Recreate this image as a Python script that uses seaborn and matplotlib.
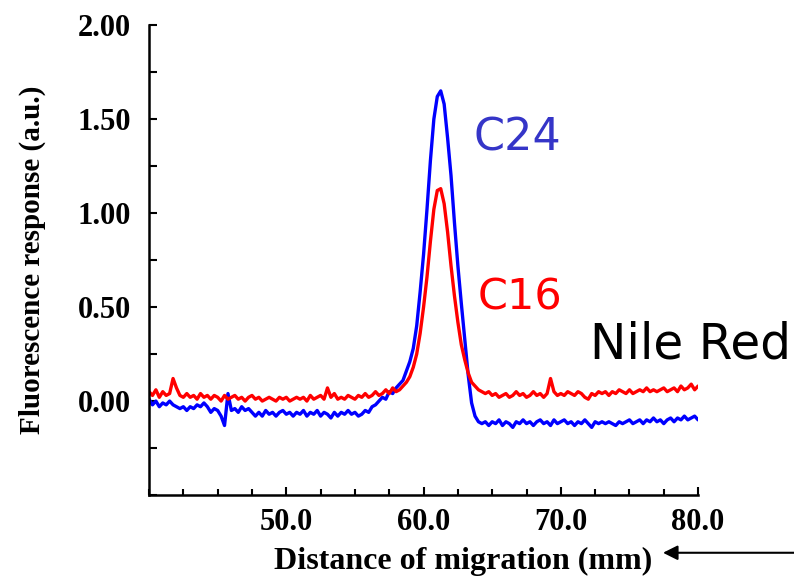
import numpy as np
import pandas as pd
import seaborn as sns
import matplotlib.pyplot as plt
from matplotlib.ticker import MultipleLocator, FormatStrFormatter

# %%-----------------------------------------------------------------------
# data (0.25 mm sampling, 40 -> 80 mm)

distance = np.arange(40.0, 80.001, 0.25)

c24 = [
    0.01, -0.02, 0.00, -0.03,     # 40
    -0.01, -0.02, 0.00, -0.02,    # 41
    -0.03, -0.04, -0.03, -0.05,   # 42
    -0.03, -0.04, -0.02, -0.03,   # 43
    -0.01, -0.03, -0.06, -0.04,   # 44
    -0.05, -0.08, -0.13, 0.04,    # 45
    -0.05, -0.04, -0.06, -0.03,   # 46
    -0.05, -0.04, -0.06, -0.08,   # 47
    -0.06, -0.08, -0.05, -0.07,   # 48
    -0.06, -0.08, -0.06, -0.05,   # 49
    -0.07, -0.06, -0.08, -0.06,   # 50
    -0.07, -0.05, -0.08, -0.06,   # 51
    -0.07, -0.05, -0.08, -0.06,   # 52
    -0.07, -0.09, -0.06, -0.08,   # 53
    -0.06, -0.07, -0.05, -0.07,   # 54
    -0.06, -0.08, -0.07, -0.05,   # 55
    -0.06, -0.03, -0.02, 0.00,    # 56
    0.02, 0.01, 0.05, 0.04,       # 57
    0.07, 0.09, 0.11, 0.16,       # 58
    0.21, 0.28, 0.40, 0.58,       # 59
    0.78, 1.02, 1.28, 1.50,       # 60
    1.62, 1.65, 1.58, 1.40,       # 61
    1.20, 0.95, 0.72, 0.52,       # 62
    0.33, 0.14, -0.01, -0.08,     # 63
    -0.11, -0.12, -0.11, -0.13,   # 64
    -0.11, -0.12, -0.10, -0.13,   # 65
    -0.11, -0.12, -0.14, -0.11,   # 66
    -0.12, -0.10, -0.12, -0.11,   # 67
    -0.13, -0.11, -0.10, -0.12,   # 68
    -0.11, -0.13, -0.10, -0.12,   # 69
    -0.11, -0.10, -0.12, -0.11,   # 70
    -0.13, -0.11, -0.12, -0.10,   # 71
    -0.12, -0.14, -0.11, -0.12,   # 72
    -0.11, -0.12, -0.11, -0.12,   # 73
    -0.13, -0.11, -0.12, -0.11,   # 74
    -0.10, -0.12, -0.11, -0.10,   # 75
    -0.12, -0.10, -0.11, -0.09,   # 76
    -0.11, -0.10, -0.12, -0.10,   # 77
    -0.09, -0.11, -0.09, -0.10,   # 78
    -0.08, -0.10, -0.09, -0.08,   # 79
    -0.10,                        # 80
]

c16 = [
    0.05, 0.03, 0.06, 0.02,       # 40
    0.05, 0.03, 0.04, 0.12,       # 41
    0.07, 0.03, 0.02, 0.04,       # 42
    0.02, 0.03, 0.01, 0.04,       # 43
    0.02, 0.03, 0.01, 0.03,       # 44
    0.02, 0.00, 0.03, 0.01,       # 45
    0.02, 0.03, 0.01, 0.02,       # 46
    0.00, 0.02, 0.03, 0.01,       # 47
    0.02, 0.00, 0.01, 0.02,       # 48
    0.01, 0.00, 0.02, 0.01,       # 49
    0.02, 0.00, 0.01, 0.02,       # 50
    0.01, 0.02, 0.00, 0.03,       # 51
    0.01, 0.02, 0.03, 0.01,       # 52
    0.07, 0.02, 0.04, 0.01,       # 53
    0.02, 0.01, 0.03, 0.02,       # 54
    0.01, 0.03, 0.02, 0.04,       # 55
    0.02, 0.03, 0.05, 0.03,       # 56
    0.04, 0.06, 0.04, 0.07,       # 57
    0.05, 0.06, 0.08, 0.10,       # 58
    0.13, 0.18, 0.25, 0.36,       # 59
    0.50, 0.66, 0.85, 1.02,       # 60
    1.12, 1.13, 1.05, 0.90,       # 61
    0.72, 0.56, 0.42, 0.30,       # 62
    0.22, 0.15, 0.10, 0.08,       # 63
    0.06, 0.05, 0.04, 0.05,       # 64
    0.03, 0.04, 0.02, 0.03,       # 65
    0.04, 0.02, 0.03, 0.05,       # 66
    0.03, 0.04, 0.02, 0.03,       # 67
    0.05, 0.03, 0.04, 0.02,       # 68
    0.04, 0.12, 0.05, 0.03,       # 69
    0.04, 0.03, 0.05, 0.04,       # 70
    0.03, 0.05, 0.04, 0.02,       # 71
    0.01, 0.04, 0.03, 0.05,       # 72
    0.04, 0.05, 0.03, 0.05,       # 73
    0.04, 0.06, 0.05, 0.04,       # 74
    0.06, 0.04, 0.05, 0.06,       # 75
    0.05, 0.07, 0.05, 0.06,       # 76
    0.05, 0.06, 0.07, 0.05,       # 77
    0.06, 0.07, 0.05, 0.08,       # 78
    0.06, 0.07, 0.09, 0.06,       # 79
    0.08,                         # 80
]

x_ticks = [50.0, 60.0, 70.0, 80.0]
y_ticks = [0.00, 0.50, 1.00, 1.50, 2.00]

df = pd.DataFrame({'distance': distance, 'C24': c24, 'C16': c16})
df_long = df.melt(id_vars='distance', var_name='chain', value_name='response')

# %%-----------------------------------------------------------------------
# plot

sns.set_style('ticks')
plt.rcParams['font.family'] = ['Liberation Serif', 'DejaVu Serif']
plt.rcParams['text.color'] = 'black'
plt.rcParams['axes.labelcolor'] = 'black'
plt.rcParams['xtick.labelcolor'] = 'black'
plt.rcParams['ytick.labelcolor'] = 'black'

fig = plt.figure(figsize=(7.94, 5.77), dpi=100)
ax = fig.add_axes([0.1877, 0.142, 0.6915, 0.8145])

sns.lineplot(data=df_long, x='distance', y='response', hue='chain',
             hue_order=['C24', 'C16'], palette={'C24': '#0000ff', 'C16': '#ff0000'},
             linewidth=2.4, legend=False, ax=ax)

ax.set_xlim(40, 80)
ax.set_ylim(-0.5, 2.0)
ax.set_xticks(x_ticks)
ax.set_yticks(y_ticks)
ax.xaxis.set_minor_locator(MultipleLocator(2.5))
ax.yaxis.set_minor_locator(MultipleLocator(0.25))
ax.xaxis.set_major_formatter(FormatStrFormatter('%.1f'))
ax.yaxis.set_major_formatter(FormatStrFormatter('%.2f'))

for s in ['top', 'right']:
    ax.spines[s].set_visible(False)
for s in ['left', 'bottom']:
    ax.spines[s].set_linewidth(1.8)
    ax.spines[s].set_color('black')

ax.tick_params(axis='both', which='both', direction='in', width=1.5, color='black',
               labelcolor='black')
ax.tick_params(axis='y', which='both', length=6, pad=13)
ax.tick_params(axis='x', which='major', length=6, pad=9)
ax.tick_params(axis='x', which='minor', length=4)
for lab in ax.get_xticklabels() + ax.get_yticklabels():
    lab.set_fontsize(22)
    lab.set_fontweight('bold')

# x label sits right of the axes centre in the original
ax.set_xlabel('')
fig.text(0.583, 0.013, 'Distance of migration (mm)', fontsize=23, fontweight='bold',
         color='black', ha='center', va='baseline')
ax.set_ylabel('Fluorescence response (a.u.)', fontsize=21, fontweight='bold',
              color='black', labelpad=23)

# annotations
ax.text(66.8, 1.40, 'C24', color='#3535c8', fontsize=32, family='DejaVu Sans',
        ha='center', va='center')
ax.text(67.0, 0.55, 'C16', color='#ff0000', fontsize=31, family='DejaVu Sans',
        ha='center', va='center')
ax.text(72.1, 0.30, 'Nile Red', color='black', fontsize=35, family='DejaVu Sans',
        ha='left', va='center')

ax.annotate('', xy=(0.835, 0.042), xytext=(1.0, 0.042),
            xycoords='figure fraction', textcoords='figure fraction',
            arrowprops=dict(arrowstyle='-|>', color='black', lw=1.5,
                            mutation_scale=22, shrinkA=0, shrinkB=0))

fig.savefig('out.png', dpi=100)
